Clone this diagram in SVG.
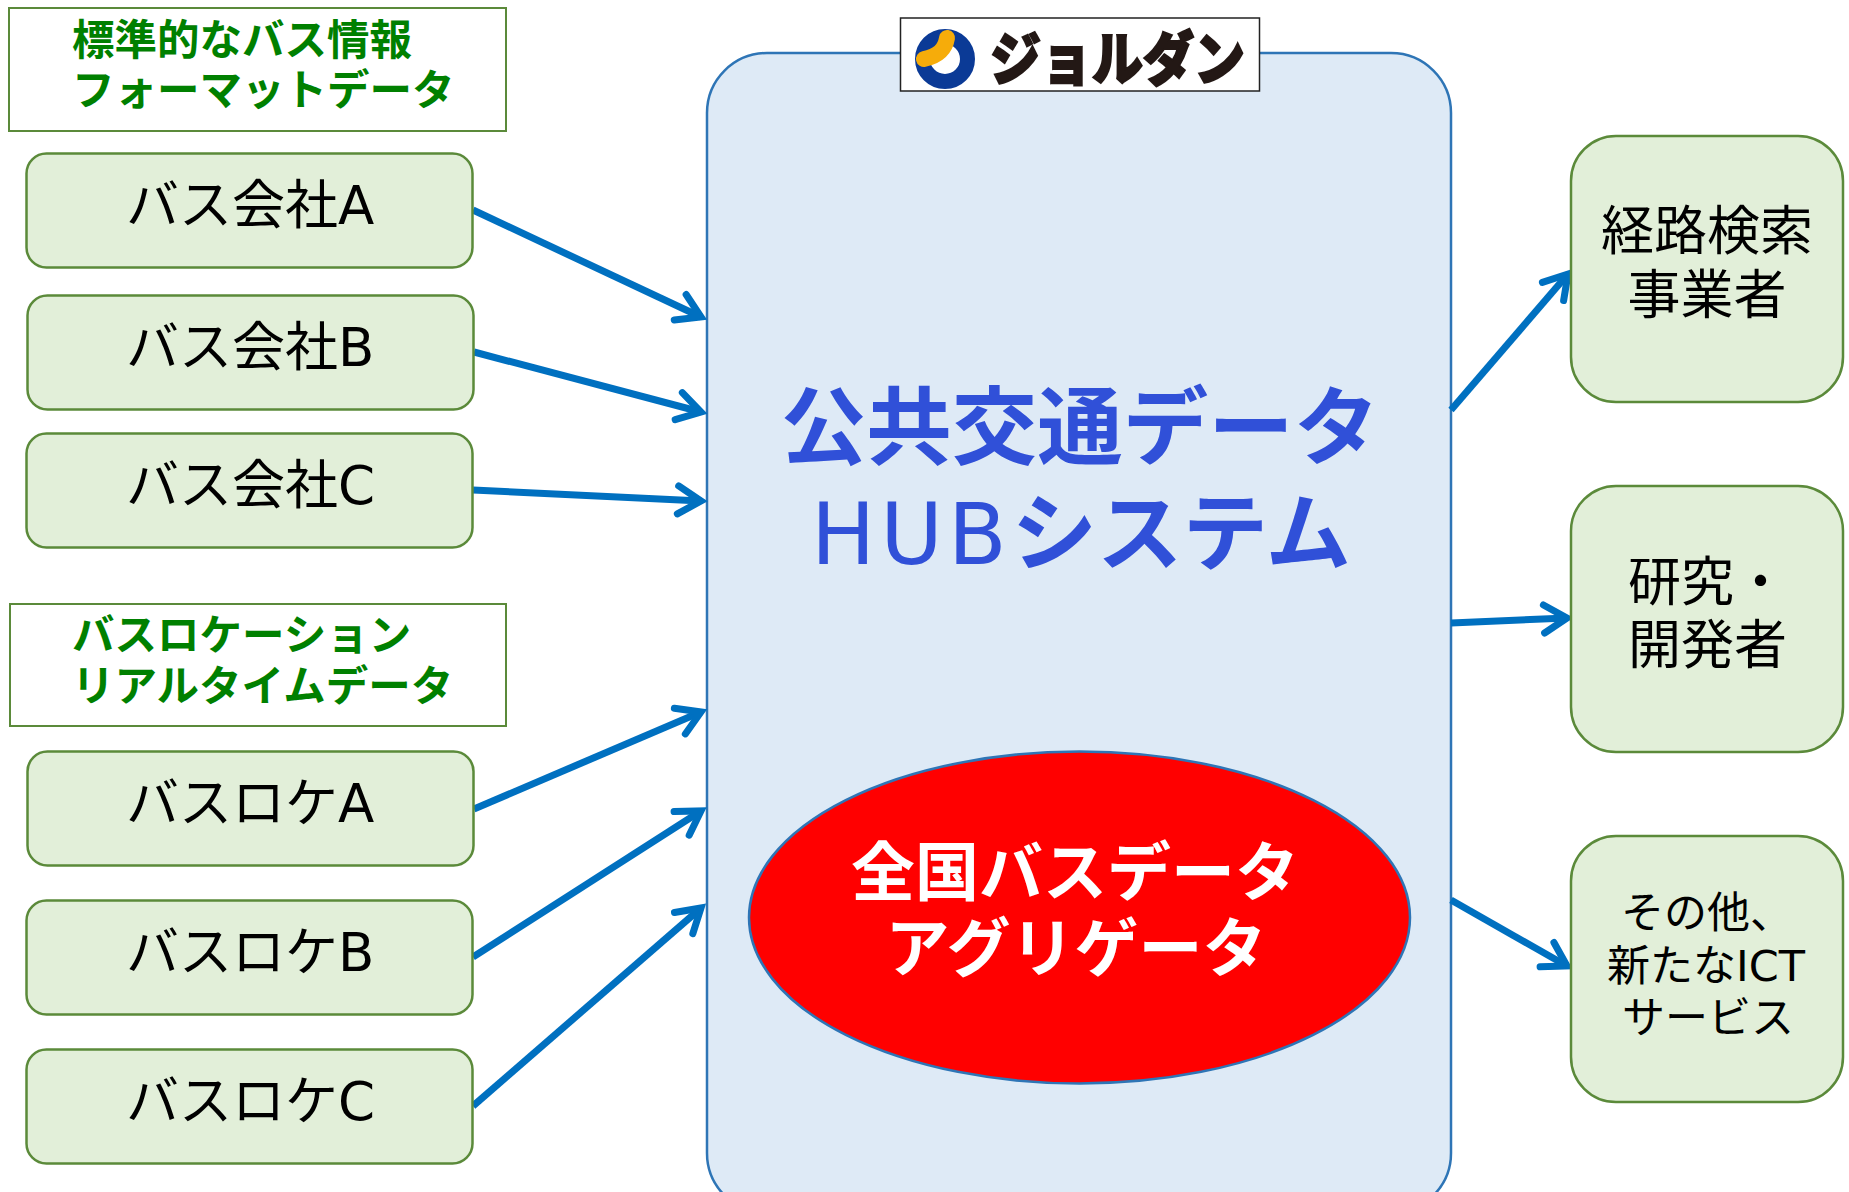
<svg xmlns="http://www.w3.org/2000/svg" width="1849" height="1192" viewBox="0 0 1849 1192">
<style>
text{font-family:"DejaVu Sans","Noto Sans CJK JP",sans-serif;fill:#000}
.g{fill:#e2efd9;stroke:#5b8a3a;stroke-width:2.5}
.t{fill:#fff;stroke:#5b8a3a;stroke-width:2}
.lab{font-size:53px}
.tt{font-size:42.500px;font-weight:700;fill:#008000}
.hub{font-size:85.500px;font-weight:700;fill:#3050d8}
.red{font-size:64px;font-weight:700;fill:#fff}
.c line{stroke:#0070c0;stroke-width:7}
</style>
<defs>
<marker id="a" markerUnits="userSpaceOnUse" markerWidth="60" markerHeight="60" refX="30" refY="30" orient="auto" overflow="visible">
<path d="M7,16 L30,30 L7,44" fill="none" stroke="#0070c0" stroke-width="7" stroke-linecap="round"/>
</marker>
</defs>
<g id="hub"><rect x="707" y="53" width="744" height="1160" rx="60" fill="#deeaf6" stroke="#2e75b6" stroke-width="2.5"/></g>
<g id="logo">
<rect x="900.500" y="18" width="359" height="73" fill="#fff" stroke="#222" stroke-width="1.500"/>
<circle cx="945" cy="59" r="22.500" fill="none" stroke="#0b3a96" stroke-width="15"/>
<path d="M947,38 C945,50 938,56 924,59" fill="none" stroke="#f6ac0a" stroke-width="16" stroke-linecap="round"/>
<text x="990" y="80" font-size="58" font-weight="900" style="fill:#231815;stroke:#231815;stroke-width:2" textLength="255" lengthAdjust="spacingAndGlyphs">ジョルダン</text>
</g>
<g class="c">
<line x1="473" y1="210" x2="701" y2="317" marker-end="url(#a)"/>
<line x1="474" y1="352" x2="701" y2="412" marker-end="url(#a)"/>
<line x1="473" y1="490" x2="701" y2="501" marker-end="url(#a)"/>
<line x1="474" y1="809" x2="701" y2="712" marker-end="url(#a)"/>
<line x1="473" y1="957" x2="701" y2="811" marker-end="url(#a)"/>
<line x1="473" y1="1106" x2="701" y2="908" marker-end="url(#a)"/>
<line x1="1451" y1="410" x2="1568" y2="274" marker-end="url(#a)"/>
<line x1="1451" y1="623" x2="1567" y2="618" marker-end="url(#a)"/>
<line x1="1451" y1="900" x2="1567" y2="966" marker-end="url(#a)"/>
</g>
<g id="title1"><rect class="t" x="9" y="8" width="497" height="123"/>
<text class="tt" x="72" y="55">標準的なバス情報</text><text class="tt" x="72" y="105">フォーマットデータ</text></g>
<g id="busA"><rect class="g" x="26.500" y="153.500" width="446" height="114" rx="20"/><text class="lab" x="126" y="224">バス会社A</text></g>
<g id="busB"><rect class="g" x="27.500" y="295.500" width="446" height="114" rx="20"/><text class="lab" x="126" y="366">バス会社B</text></g>
<g id="busC"><rect class="g" x="26.500" y="433.500" width="446" height="114" rx="20"/><text class="lab" x="126" y="504">バス会社C</text></g>
<g id="title2"><rect class="t" x="10" y="604" width="496" height="122"/>
<text class="tt" x="72" y="650">バスロケーション</text><text class="tt" x="72" y="701">リアルタイムデータ</text></g>
<g id="locA"><rect class="g" x="27.500" y="751.500" width="446" height="114" rx="20"/><text class="lab" x="126" y="822">バスロケA</text></g>
<g id="locB"><rect class="g" x="26.500" y="900.500" width="446" height="114" rx="20"/><text class="lab" x="126" y="971">バスロケB</text></g>
<g id="locC"><rect class="g" x="26.500" y="1049.500" width="446" height="114" rx="20"/><text class="lab" x="126" y="1120">バスロケC</text></g>
<g id="hubtitle"><text class="hub" x="1080" y="458" text-anchor="middle">公共交通データ</text><text class="hub" x="1081" y="564" text-anchor="middle"><tspan font-weight="400" letter-spacing="5">HUB</tspan>システム</text></g>
<g id="aggregator"><ellipse cx="1079.500" cy="917.500" rx="330.500" ry="166" fill="#ff0000" stroke="#2e75b6" stroke-width="2.500"/>
<text class="red" x="1075" y="895" text-anchor="middle">全国バスデータ</text><text class="red" x="1076" y="971" text-anchor="middle">アグリゲータ</text></g>
<g id="route"><rect class="g" x="1571" y="136" width="272" height="266" rx="45"/><text class="lab" x="1707" y="250" text-anchor="middle">経路検索</text><text class="lab" x="1707" y="314" text-anchor="middle">事業者</text></g>
<g id="research"><rect class="g" x="1571" y="486" width="272" height="266" rx="45"/><text class="lab" x="1628" y="601">研究・</text><text class="lab" x="1628" y="664">開発者</text></g>
<g id="other"><rect class="g" x="1571" y="836" width="272" height="266" rx="45"/><text x="1621" y="928" font-size="43">その他、</text><text x="1607" y="981" font-size="43">新たなICT</text><text x="1622" y="1033" font-size="43">サービス</text></g>
</svg>
